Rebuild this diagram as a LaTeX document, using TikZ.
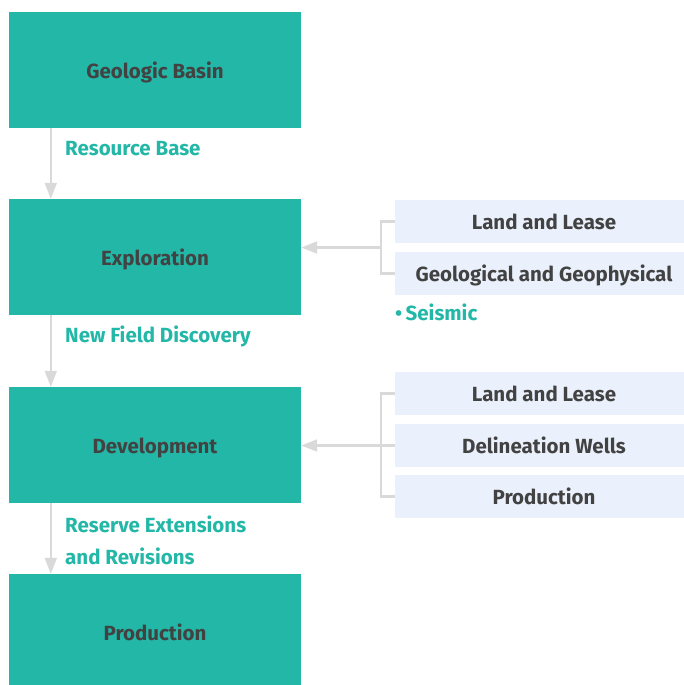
\documentclass[tikz,border=0pt]{standalone}
\usepackage{fontspec}
\setmainfont{Fira Sans}
\usepackage{xcolor}
\usepackage{tikz}
\usetikzlibrary{arrows.meta}
\definecolor{teal}{HTML}{23B7A7}
\definecolor{darktext}{HTML}{424242}
\definecolor{pale}{HTML}{EBF1FC}
\definecolor{link}{HTML}{D9D9D9}
\tikzset{
  stageBox/.style={fill=teal, minimum width=292pt, minimum height=116pt, inner sep=0pt,
    text height=17pt, text depth=0pt,
    text=darktext, font=\fontsize{20.5}{24}\selectfont\bfseries},
  itemBox/.style={fill=pale, minimum width=298pt, minimum height=43pt, inner sep=0pt,
    text height=16pt, text depth=0pt,
    text=darktext, font=\fontsize{20.5}{24}\selectfont\bfseries},
  flowLabel/.style={anchor=west, inner sep=0pt, text=teal, align=left,
    font=\fontsize{20.5}{32}\selectfont\bfseries},
  linkLine/.style={draw=link, line width=2.2pt},
  flowArrow/.style={linkLine, -{Triangle[width=12pt,length=16pt]}}
}

\begin{document}
\begin{tikzpicture}[x=1pt, y=-1pt]
  \useasboundingbox (0,0) rectangle (684,685);
  \clip (0,0) rectangle (684,685);

  \node[stageBox] (basin) at (155,70) {Geologic Basin};
  \node[stageBox] (explore) at (155,257) {Exploration};
  \node[stageBox] (develop) at (155,445) {Development};
  \node[stageBox] (produce) at (155,632) {Production};

  \draw[flowArrow] ([xshift=42pt]basin.south west) -- ([xshift=42pt]explore.north west);
  \draw[flowArrow] ([xshift=42pt]explore.south west) -- ([xshift=42pt]develop.north west);
  \draw[flowArrow] ([xshift=42pt]develop.south west) -- ([xshift=42pt]produce.north west);

  \node[flowLabel] (resource) at (65,149) {Resource Base};
  \node[flowLabel] (discovery) at (65,336) {New Field Discovery};
  \node[flowLabel] (reserve) at (65,540) {Reserve Extensions\\and Revisions};

  \node[itemBox] (landA) at (544,221.5) {Land and Lease};
  \node[itemBox] (geoA) at (544,273.5) {Geological and Geophysical};
  \node[flowLabel] (seismic) at (395,312) {\textbullet\,Seismic};

  \node[itemBox] (landB) at (544,393.5) {Land and Lease};
  \node[itemBox] (wells) at (544,445.5) {Delineation Wells};
  \node[itemBox] (prodB) at (544,496.5) {Production};

  \coordinate (joinA) at (381,247.5);
  \coordinate (joinB) at (381,445.5);

  \draw[linkLine] (landA.west) -| (joinA) |- (geoA.west);
  \draw[flowArrow] (joinA) -- (joinA -| explore.east);

  \draw[linkLine] (landB.west) -| (joinB) |- (prodB.west);
  \draw[linkLine] (wells.west) -- (joinB);
  \draw[flowArrow] (joinB) -- (joinB -| develop.east);
\end{tikzpicture}
\end{document}
